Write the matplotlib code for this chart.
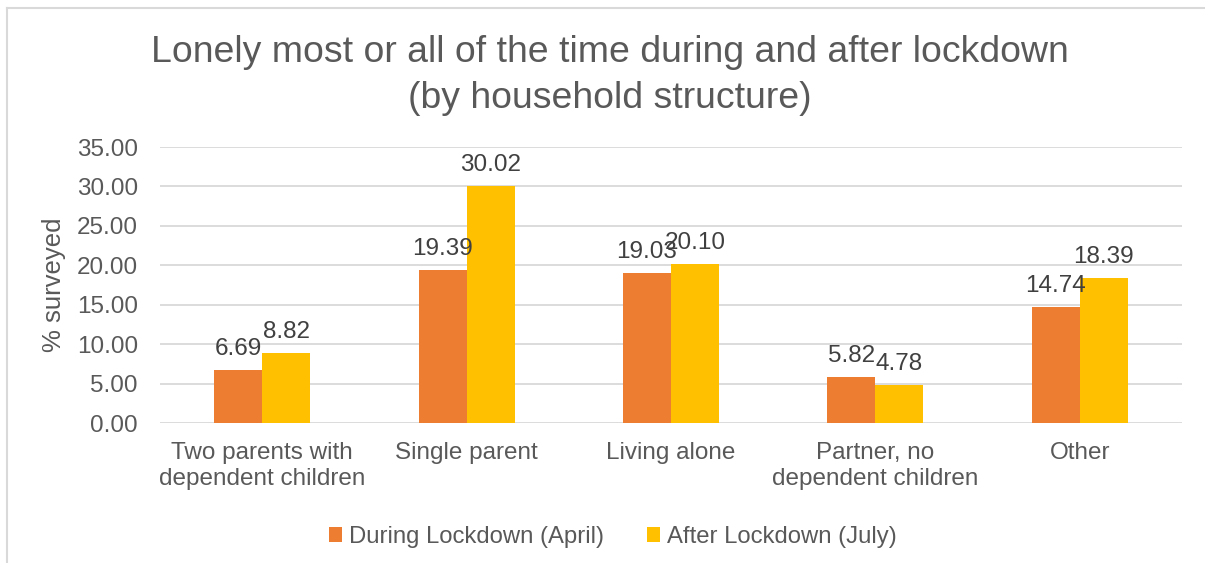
import matplotlib
matplotlib.use("Agg")
import matplotlib.pyplot as plt
from matplotlib.lines import Line2D
from matplotlib.patches import Patch
import numpy as np

categories = ["Two parents with\ndependent children", "Single parent", "Living alone",
              "Partner, no\ndependent children", "Other"]
during = [6.69, 19.39, 19.03, 5.82, 14.74]
after = [8.82, 30.02, 20.10, 4.78, 18.39]
series_names = ["During Lockdown (April)", "After Lockdown (July)"]
yticks = [0, 5, 10, 15, 20, 25, 30, 35]

ORANGE = "#ED7D31"
YELLOW = "#FFC000"
TEXT = "#595959"
GRID = "#D9D9D9"

plt.rcParams['font.family'] = ['Liberation Sans', 'DejaVu Sans']

W, H = 1205, 563
FS = 17.5
fig = plt.figure(figsize=(W / 100, H / 100), dpi=100)
ax = fig.add_axes([160 / W, 1 - 423 / H, (1182 - 160) / W, (423 - 147) / H])

x = np.arange(len(categories))
bw = 0.235
b1 = ax.bar(x - bw / 2, during, bw, color=ORANGE, zorder=3)
b2 = ax.bar(x + bw / 2, after, bw, color=YELLOW, zorder=3)

for bars, vals in ((b1, during), (b2, after)):
    for rect, v in zip(bars, vals):
        ax.annotate(f"{v:.2f}", (rect.get_x() + rect.get_width() / 2, v),
                    xytext=(0, 15), textcoords='offset pixels',
                    ha='center', va='baseline', fontsize=FS, color="#404040", zorder=4)

ax.set_xlim(-0.5, len(categories) - 0.5)
ax.set_ylim(0, 35)
ax.set_yticks(yticks)
ax.set_yticklabels([f"{t:.2f}" for t in yticks])
ax.set_xticks(x)
ax.set_xticklabels(categories, linespacing=1.2)
ax.tick_params(axis='both', length=0, labelsize=FS, labelcolor=TEXT)
ax.tick_params(axis='y', pad=16)
ax.tick_params(axis='x', pad=14)
ax.yaxis.grid(True, color=GRID, linewidth=1.3, zorder=0)
for s in ax.spines.values():
    s.set_visible(False)
ax.set_ylabel("% surveyed", fontsize=18.5, color=TEXT, labelpad=8)

fig.text(610 / W, 1 - 52 / H, "Lonely most or all of the time during and after lockdown",
         ha='center', va='center', fontsize=26.9, color=TEXT)
fig.text(610 / W, 1 - 98 / H, "(by household structure)",
         ha='center', va='center', fontsize=26.9, color=TEXT)

handles = [Patch(facecolor=ORANGE), Patch(facecolor=YELLOW)]
fig.legend(handles, series_names, loc='center', bbox_to_anchor=(613 / W, 1 - 537 / H),
           ncol=2, frameon=False, fontsize=17.2, labelcolor=TEXT,
           handlelength=0.55, handleheight=0.55, handletextpad=0.3, columnspacing=1.8)

fig.add_artist(Line2D([7 / W, 7 / W], [0, 1 - 8 / H], transform=fig.transFigure, color=GRID, lw=1.5))
fig.add_artist(Line2D([7 / W, 1], [1 - 8 / H, 1 - 8 / H], transform=fig.transFigure, color=GRID, lw=1.5))

fig.savefig("out.png", dpi=100, facecolor="white")
